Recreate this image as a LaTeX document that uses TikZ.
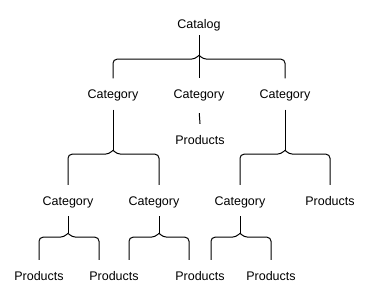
\documentclass[tikz,border=0pt]{standalone}
\usepackage{fontspec}
\setmainfont{Liberation Sans}
\usetikzlibrary{calc}
\tikzset{
  itemnode/.style={inner xsep=0pt,inner ysep=8pt,text height=12pt,text depth=3pt,font=\fontsize{12.5}{15}\selectfont},
  rootnode/.style={itemnode,inner ysep=4pt},
  arm/.style={draw=black,line width=1pt,rounded corners=4pt}
}
\begin{document}
\begin{tikzpicture}[x=1pt,y=-1pt]
\useasboundingbox (0,0) rectangle (371,293);
\node[rootnode] (catalog) at (199,23.5) {Catalog};
\node[itemnode] (catA) at (113,94) {Category};
\node[itemnode] (catB) at (199,94) {Category};
\node[itemnode] (catC) at (285,94) {Category};
\node[itemnode] (prodB) at (200,139.5) {Products};
\node[itemnode] (catAA) at (68,200.5) {Category};
\node[itemnode] (catAB) at (154,200.5) {Category};
\node[itemnode] (catCA) at (240,200.5) {Category};
\node[itemnode] (prodC) at (330,200.5) {Products};
\node[itemnode] (prod1) at (39,275.5) {Products};
\node[itemnode] (prod2) at (114,275.5) {Products};
\node[itemnode] (prod3) at (200,275.5) {Products};
\node[itemnode] (prod4) at (271,275.5) {Products};
\coordinate (h0) at ($(catalog.south)+(0,20)$);
\coordinate (hA) at ($(catA.south)+(0,40.5)$);
\coordinate (hC) at ($(catC.south)+(0,40.5)$);
\coordinate (hAA) at ($(catAA.south)+(0,17)$);
\coordinate (hAB) at ($(catAB.south)+(5,17)$);
\coordinate (hCA) at ($(catCA.south)+(0,17)$);
\coordinate (endAB) at ($(catAB.north)+(5,0)$);
\coordinate (end2a) at ($(prod2.north)+(-15,0)$);
\coordinate (end2b) at ($(prod2.north)+(15,0)$);
\coordinate (end3a) at ($(prod3.north)+(-11,0)$);
\coordinate (end3b) at ($(prod3.north)+(11,0)$);
\draw[arm] (catalog.south) -- (catB.north);
\draw[arm] (h0) -- ++(-4,4) -| (catA.north);
\draw[arm] (h0) -- ++(4,4) -| (catC.north);
\draw[arm,shorten <=3.5pt] (catB.south) -- (prodB.north);
\draw[arm] (catA.south) -- (hA);
\draw[arm] (hA) -- ++(-4,4) -| (catAA.north);
\draw[arm] (hA) -- ++(4,4) -| (endAB);
\draw[arm] (catC.south) -- (hC);
\draw[arm] (hC) -- ++(-4,4) -| (catCA.north);
\draw[arm] (hC) -- ++(4,4) -| (prodC.north);
\draw[arm] ($(catAB.south)+(5,0)$) -- (hAB);
\draw[arm] (catAA.south) -- (hAA);
\draw[arm] (hAA) -- ++(-4,4) -| (prod1.north);
\draw[arm] (hAA) -- ++(4,4) -| (end2a);
\draw[arm] (hAB) -- ++(-4,4) -| (end2b);
\draw[arm] (hAB) -- ++(4,4) -| (end3a);
\draw[arm] (catCA.south) -- (hCA);
\draw[arm] (hCA) -- ++(-4,4) -| (end3b);
\draw[arm] (hCA) -- ++(4,4) -| (prod4.north);
\end{tikzpicture}
\end{document}
